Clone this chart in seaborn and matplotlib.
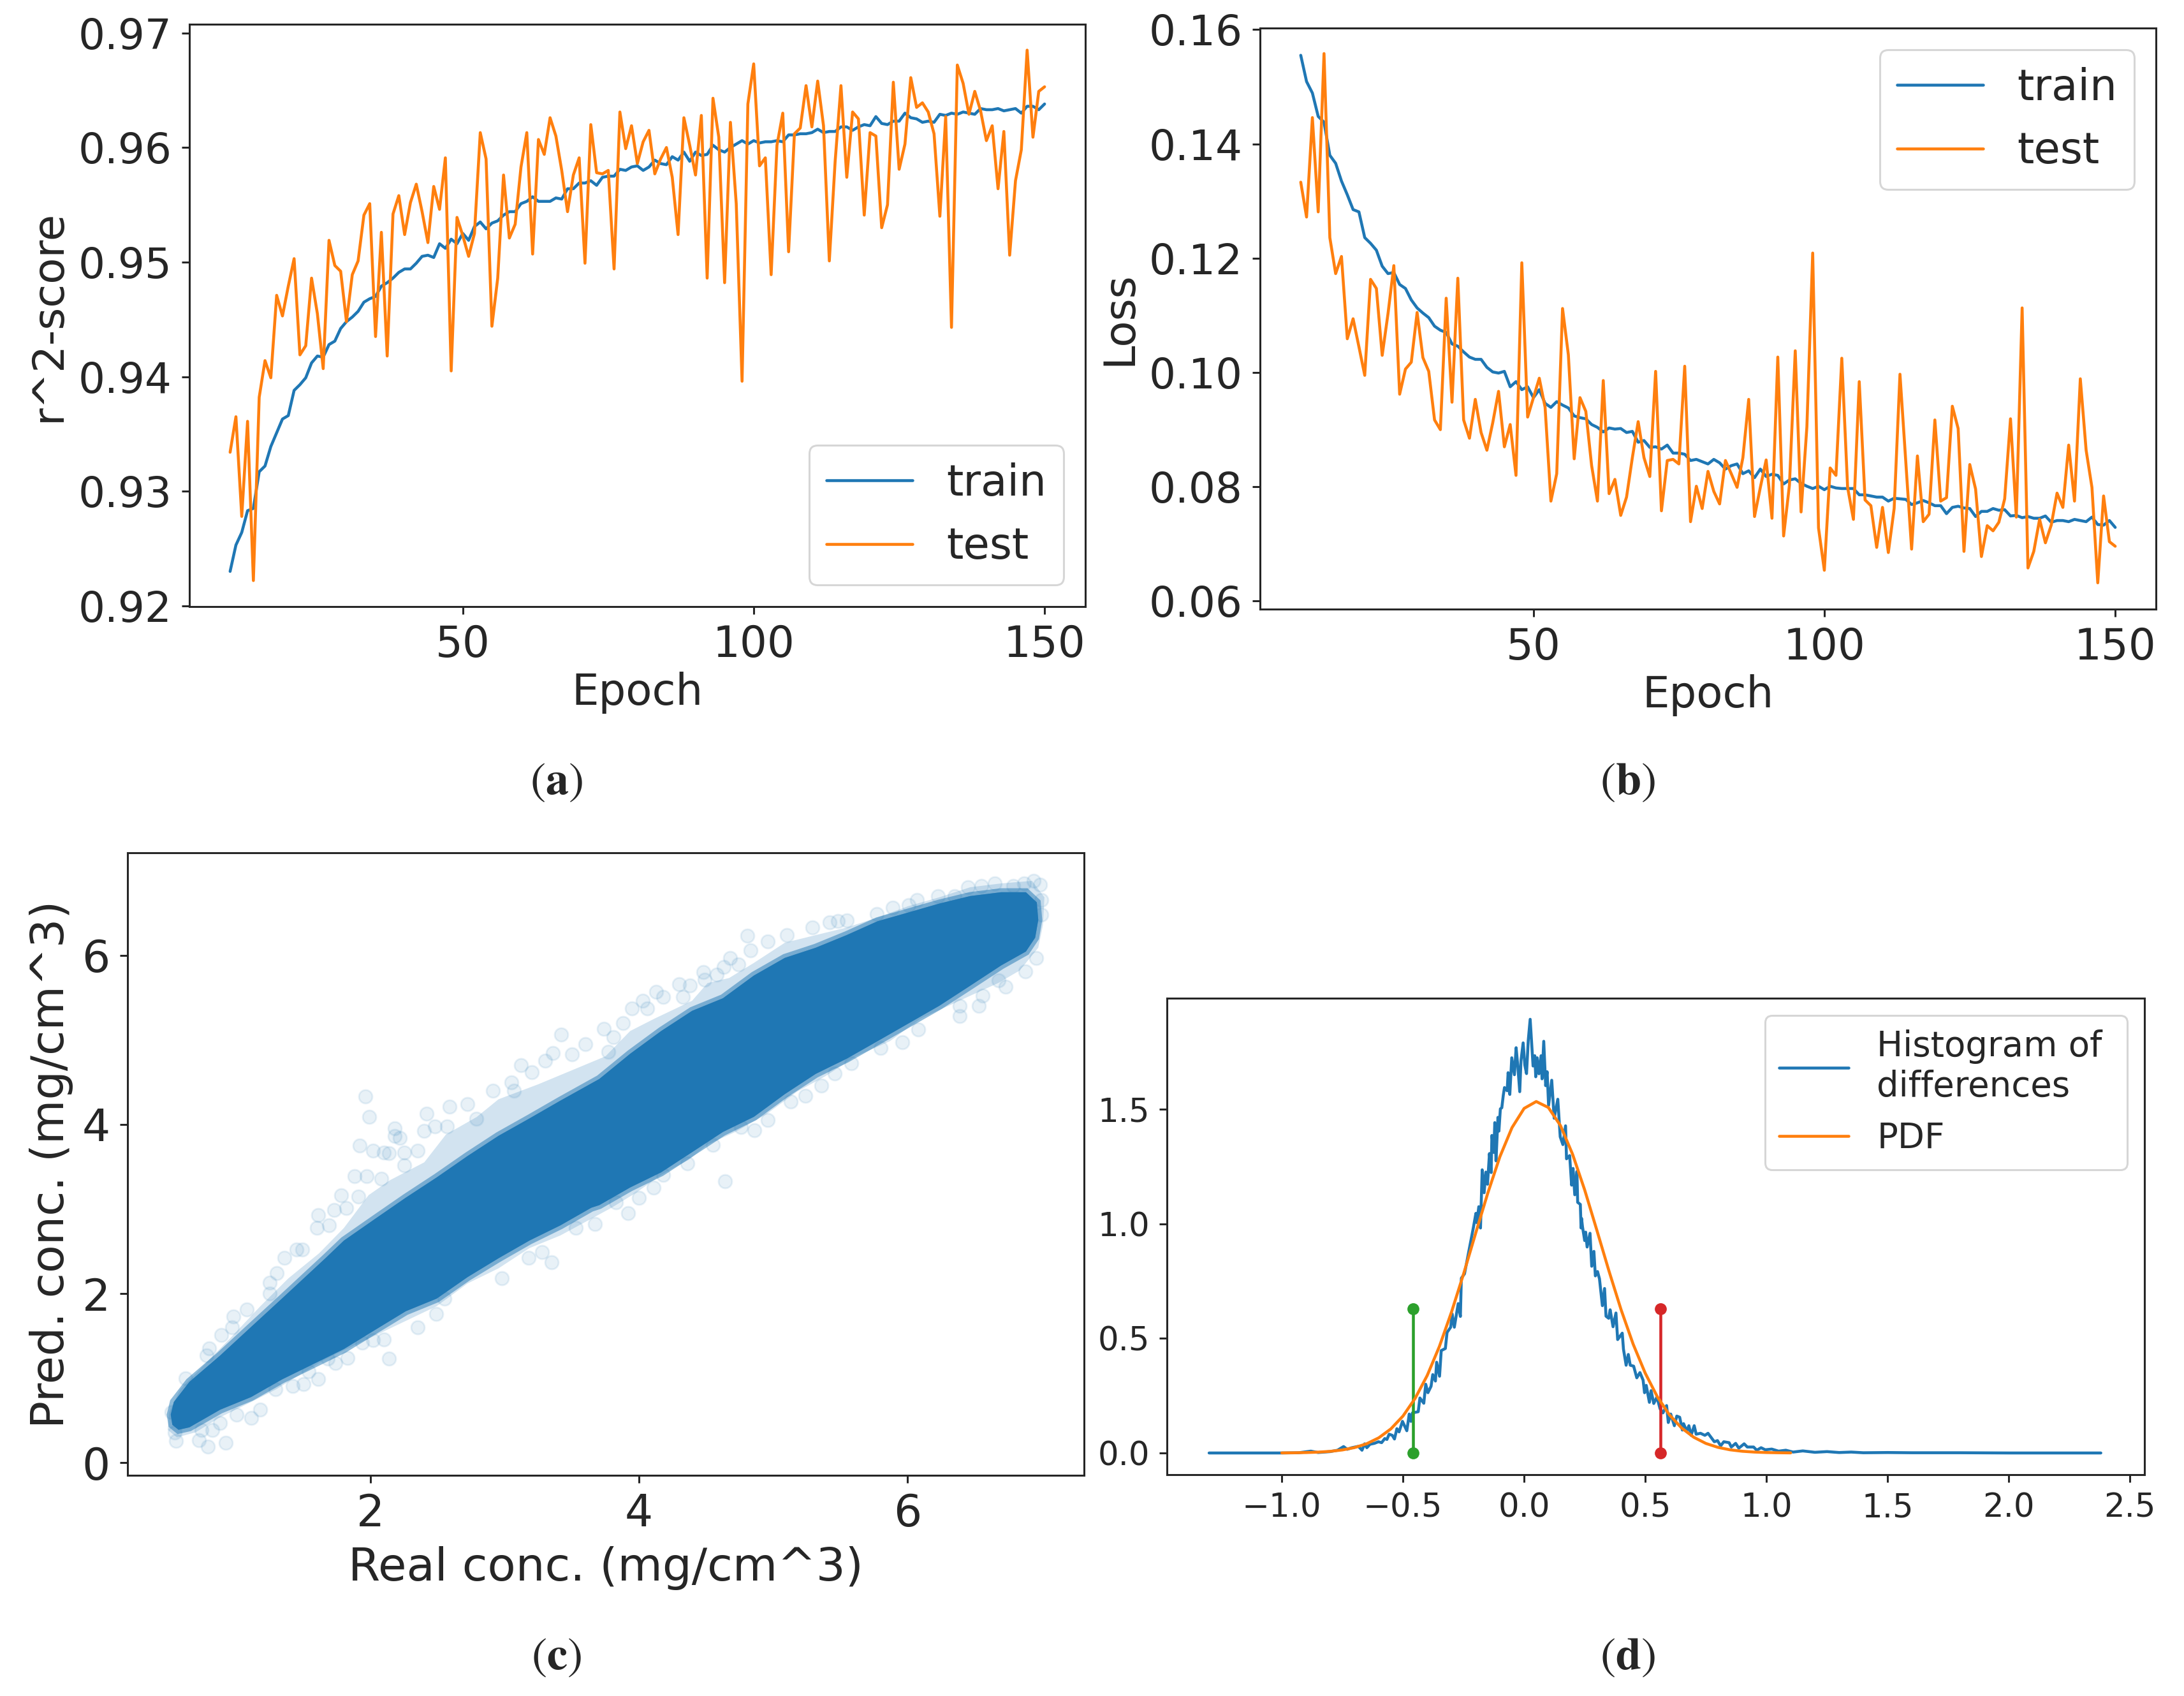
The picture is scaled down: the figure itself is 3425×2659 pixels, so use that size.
import numpy as np
import matplotlib
import matplotlib.pyplot as plt
import seaborn as sns
matplotlib.use('Agg')

epochs = list(range(10, 151))

r2_train = [.9230,.9253,.9264,.9283,.9285,.9317,.9322,.9339,.9351,.9363,.9366,.9388,.9393,.9399,.9412,.9418,.9417,.9428,.9431,.9442,
	.9448,.9452,.9457,.9465,.9468,.9470,.9479,.9482,.9486,.9491,.9494,.9494,.9499,.9505,.9506,.9504,.9516,.9512,.9520,.9516,
	.9525,.9519,.9531,.9535,.9529,.9534,.9536,.9541,.9544,.9544,.9551,.9553,.9557,.9553,.9553,.9553,.9556,.9555,.9564,.9564,
	.9569,.9569,.9571,.9567,.9574,.9575,.9575,.9581,.9580,.9583,.9584,.9580,.9583,.9589,.9586,.9585,.9592,.9589,.9596,.9588,
	.9596,.9593,.9594,.9602,.9598,.9596,.9600,.9603,.9606,.9603,.9606,.9604,.9605,.9605,.9606,.9605,.9611,.9611,.9612,.9612,
	.9613,.9616,.9613,.9614,.9614,.9618,.9618,.9615,.9618,.9620,.9619,.9627,.9621,.9620,.9623,.9623,.9630,.9626,.9625,.9622,
	.9623,.9622,.9629,.9628,.9630,.9629,.9631,.9630,.9629,.9634,.9633,.9633,.9634,.9632,.9633,.9634,.9630,.9636,.9636,.9633,.9638]
r2_test = [.9334,.9365,.9278,.9361,.9222,.9382,.9414,.9399,.9471,.9453,.9479,.9503,.9419,.9427,.9486,.9455,.9407,.9519,.9497,.9492,
	.9448,.9489,.9501,.9541,.9551,.9435,.9526,.9418,.9542,.9558,.9524,.9552,.9568,.9544,.9517,.9566,.9546,.9591,.9405,.9539,
	.9523,.9505,.9525,.9613,.9590,.9444,.9486,.9576,.9521,.9533,.9583,.9613,.9507,.9607,.9594,.9626,.9610,.9580,.9544,.9576,
	.9591,.9499,.9620,.9578,.9577,.9580,.9494,.9631,.9599,.9619,.9586,.9605,.9615,.9577,.9590,.9600,.9574,.9524,.9626,.9602,
	.9576,.9628,.9486,.9643,.9609,.9482,.9622,.9551,.9396,.9638,.9673,.9584,.9591,.9489,.9602,.9630,.9509,.9612,.9617,.9654,
	.9618,.9658,.9619,.9501,.9588,.9654,.9574,.9631,.9625,.9541,.9613,.9610,.9530,.9550,.9657,.9581,.9603,.9661,.9635,.9639,
	.9631,.9612,.9540,.9627,.9443,.9672,.9656,.9629,.9649,.9632,.9606,.9619,.9564,.9614,.9506,.9571,.9598,.9685,.9609,.9649,.9653]

loss_train = [.1555,.1509,.1489,.1448,.1438,.1380,.1366,.1335,.1311,.1285,.1281,.1236,.1226,.1214,.1186,.1173,.1175,.1154,.1147,.1127,
	.1113,.1104,.1096,.1081,.1074,.1070,.1050,.1046,.1036,.1027,.1023,.1023,.1009,.1001,.0999,.1002,.0975,.0984,.0970,.0975,
	.0956,.0970,.0946,.0939,.0949,.0943,.0938,.0924,.0921,.0919,.0909,.0904,.0896,.0903,.0901,.0902,.0895,.0897,.0878,.0881,
	.0869,.0870,.0866,.0873,.0859,.0859,.0857,.0846,.0848,.0844,.0840,.0848,.0842,.0831,.0837,.0840,.0823,.0828,.0816,.0831,
	.0818,.0822,.0820,.0805,.0812,.0814,.0806,.0801,.0797,.0801,.0795,.0801,.0798,.0797,.0797,.0797,.0786,.0786,.0784,.0782,
	.0782,.0775,.0780,.0779,.0778,.0769,.0772,.0776,.0772,.0767,.0767,.0753,.0764,.0766,.0763,.0762,.0748,.0757,.0757,.0762,
	.0759,.0760,.0749,.0750,.0746,.0748,.0745,.0745,.0749,.0738,.0741,.0741,.0739,.0743,.0741,.0739,.0747,.0734,.0733,.0741,.0729]
loss_test = [.1333,.1272,.1446,.1281,.1558,.1236,.1173,.1203,.1059,.1094,.1045,.0995,.1163,.1147,.1030,.1103,.1187,.0962,.1006,.1018,
	.1105,.1026,.1002,.0917,.0900,.1130,.0948,.1165,.0917,.0885,.0953,.0895,.0864,.0912,.0967,.0870,.0909,.0820,.1192,.0922,
	.0956,.0990,.0939,.0775,.0823,.1112,.1031,.0849,.0956,.0932,.0837,.0775,.0986,.0788,.0813,.0750,.0782,.0851,.0914,.0851,
	.0818,.1002,.0758,.0846,.0848,.0840,.1011,.0739,.0801,.0762,.0827,.0792,.0770,.0846,.0823,.0799,.0851,.0953,.0748,.0799,
	.0847,.0745,.1027,.0714,.0803,.1038,.0756,.0905,.1209,.0728,.0654,.0833,.0820,.1025,.0799,.0743,.0984,.0777,.0767,.0694,
	.0764,.0685,.0762,.0997,.0844,.0691,.0854,.0739,.0752,.0917,.0775,.0781,.0941,.0902,.0687,.0839,.0796,.0678,.0732,.0723,
	.0738,.0779,.0919,.0747,.1113,.0658,.0687,.0743,.0702,.0733,.0789,.0764,.0873,.0775,.0989,.0864,.0799,.0632,.0784,.0704,.0696]

# panel c: outline of the solid cloud and its pale haze, plus stray points
cloud_real = [.512,.535,.651,.881,1.111,1.342,1.480,1.664,1.802,2.032,2.263,2.493,2.723,2.954,3.184,3.414,3.705,3.935,4.166,4.396,4.626,4.857,5.087,5.317,5.547,5.778,6.008,6.238,6.469,6.699,6.883,6.964,6.975,6.952,
	6.883,6.699,6.469,6.238,6.008,5.778,5.547,5.317,5.087,4.857,4.626,4.396,4.166,3.935,3.705,3.645,3.414,3.184,2.954,2.723,2.493,2.263,2.032,1.802,1.572,1.342,1.111,.881,.651,.570,.524]
cloud_pred = [.570,.719,.957,1.270,1.607,1.944,2.147,2.418,2.627,2.881,3.134,3.373,3.626,3.865,4.070,4.280,4.537,4.835,5.104,5.342,5.491,5.760,5.968,6.088,6.237,6.401,6.505,6.610,6.699,6.744,6.744,6.624,6.416,6.207,
	6.043,5.879,5.640,5.402,5.193,4.984,4.776,4.597,4.358,4.090,3.911,3.672,3.434,3.255,3.046,3.015,2.806,2.627,2.418,2.195,1.941,1.792,1.569,1.345,1.166,.987,.778,.629,.420,.391,.450]
haze_real = [.501,.582,.766,.950,1.180,1.388,1.618,1.802,1.986,2.148,2.401,2.562,2.792,2.954,3.253,3.751,3.935,4.120,4.396,4.511,4.672,4.857,5.087,5.317,5.547,5.778,6.008,6.238,6.469,6.699,6.929,7.021,7.010,6.975,
	6.837,6.676,6.469,6.307,6.100,5.870,5.617,5.386,5.179,4.949,4.718,4.511,4.373,4.166,3.981,3.797,3.414,3.184,2.954,2.723,2.493,2.217,1.940,1.664,1.480,1.295,1.111,.881,.697,.558,.489]
haze_pred = [.599,.868,1.166,1.464,1.852,2.180,2.478,2.776,3.164,3.343,3.552,3.880,4.088,4.297,4.476,4.805,5.104,5.253,5.461,5.670,5.730,5.909,6.147,6.237,6.326,6.446,6.580,6.684,6.803,6.848,6.878,6.684,6.356,6.088,
	5.819,5.670,5.521,5.402,5.253,4.984,4.805,4.567,4.388,4.120,3.911,3.762,3.583,3.404,3.195,3.016,2.687,2.538,2.299,2.120,1.852,1.643,1.434,1.226,1.047,.868,.719,.540,.361,.301,.391]
stray_real = [1.96,1.99,2.18,2.18,2.22,1.92,2.02,2.10,2.14,2.25,1.88,1.97,1.78,1.91,1.73,1.82,1.61,1.60,1.69,1.45,1.49,1.36,1.30,1.25,1.25,1.08,.98,.97,.89,.80,.78,.62,
	2.42,2.59,2.72,2.91,3.07,2.40,2.48,2.57,2.79,2.35,2.25,2.08,
	2.14,2.10,2.02,1.94,2.35,2.49,2.55,2.98,3.35,3.28,3.18,3.67,3.53,1.83,1.74,1.68,1.61,1.54,1.50,1.42,1.29,1.18,1.11,1.00,.82,.88,.74,.72,.79,.92,.55,.54,.52,
	4.81,4.83,4.68,4.74,4.63,4.48,4.49,4.58,4.30,4.38,4.13,4.18,4.33,4.03,3.95,4.06,3.88,3.74,3.81,3.77,5.29,5.42,5.48,5.55,5.77,5.89,6.01,6.07,6.23,6.35,6.45,6.55,6.65,6.79,6.87,6.94,6.99,7.00,7.00,5.10,4.96,
	4.64,3.92,6.96,6.88,6.73,6.68,6.53,6.56,6.39,6.39,5.96,6.08,5.80,5.58,5.46,5.36,5.24,5.13,4.96,4.86,4.76,4.55,4.36,4.11,4.00,3.83,4.18,
	3.12,3.42,3.36,3.50,3.20,3.30,3.60,3.05]
stray_pred = [4.33,4.09,3.95,3.86,3.84,3.75,3.69,3.67,3.66,3.67,3.39,3.39,3.16,3.15,2.99,3.01,2.93,2.78,2.81,2.52,2.52,2.42,2.24,2.13,2.00,1.81,1.73,1.60,1.51,1.35,1.27,1.00,
	4.13,4.21,4.24,4.40,4.40,3.92,3.98,3.98,4.07,3.69,3.52,3.36,
	1.23,1.46,1.45,1.42,1.60,1.76,1.94,2.18,2.37,2.49,2.42,2.82,2.78,1.24,1.18,1.23,.99,1.08,.93,.91,.87,.63,.53,.57,.39,.47,.39,.27,.19,.24,.26,.36,.60,
	6.23,6.06,5.97,5.89,5.86,5.80,5.71,5.77,5.66,5.64,5.57,5.51,5.51,5.46,5.37,5.37,5.20,5.13,5.03,4.86,6.33,6.39,6.40,6.41,6.49,6.56,6.59,6.65,6.70,6.70,6.80,6.82,6.85,6.82,6.85,6.88,6.83,6.65,6.48,6.24,6.16,
	3.33,2.95,5.97,5.81,5.63,5.70,5.40,5.52,5.28,5.40,4.97,5.12,4.90,4.72,4.60,4.46,4.34,4.27,4.05,3.93,3.97,3.76,3.54,3.25,3.13,3.08,3.40,
	4.70,5.06,4.84,4.83,4.62,4.75,4.95,4.50]

# panel d
hist_x = [-1.30,-1.00,-.93,-.88,-.85,-.80,-.77,-.745,-.73,
	-.711,-.697,-.684,-.669,-.658,-.649,-.636,-.618,-.601,-.588,-.575,-.566,-.557,-.544,-.535,-.525,-.516,-.502,-.484,-.474,-.467,-.461,
	-.437,-.430,-.414,-.406,-.397,-.384,-.377,-.366,-.361,-.349,-.342,-.325,-.318,-.303,-.297,-.288,-.272,-.263,-.259,-.246,
	-.219,-.209,-.199,-.195,-.187,-.180,-.173,-.165,-.158,-.151,-.143,-.136,-.133,-.125,-.121,-.116,-.108,-.104,-.098,-.092,-.086,-.081,
	-.070,-.066,-.059,-.051,-.040,-.033,-.026,-.018,-.013,-.004,.003,.010,.017,.025,.031,.037,.044,.048,.054,.061,.070,.074,.081,.089,.095,
	.101,.114,.124,.139,.149,.160,.171,.175,.188,.196,.202,.209,.218,.221,.232,.235,
	.237,.241,.250,.254,.260,.272,.279,.288,.294,.303,.311,.323,.332,.338,.349,.355,.367,.379,.386,.405,.410,.421,.430,.438,.452,.465,.478,.491,.497,.504,
	.517,.524,.535,.548,.561,.573,.588,.595,.605,.620,.630,.642,.653,.658,.671,.680,.689,.702,.710,.728,.746,.759,.785,.798,.811,.824,.846,.855,.873,.886,.908,.921,.947,.960,.978,.995,1.022,
	1.05,1.08,1.11,1.15,1.20,1.25,1.30,1.35,1.40,1.50,1.60,1.80,2.00,2.38]
hist_y = [0,0,.001,.008,.002,.006,.012,.028,.016,
	.023,.026,.029,.012,.040,.023,.038,.042,.049,.045,.063,.059,.082,.077,.061,.106,.092,.138,.097,.170,.138,.175,
	.180,.240,.217,.300,.263,.291,.342,.314,.396,.335,.447,.456,.526,.549,.607,.549,.652,.596,.763,.782,
	.930,.986,1.046,1.005,1.075,.982,1.236,1.136,1.226,1.173,1.307,1.224,1.386,1.312,1.442,1.275,1.465,1.405,1.502,1.507,1.561,1.595,
	1.581,1.660,1.565,1.725,1.651,1.769,1.689,1.577,1.711,1.790,1.693,1.656,1.800,1.893,1.793,1.689,1.734,1.642,1.725,1.655,1.734,1.633,1.797,1.603,1.664,
	1.517,1.627,1.461,1.544,1.380,1.346,1.428,1.284,1.298,1.169,1.242,1.127,1.229,1.094,1.085,.982,
	1.024,.987,.927,.964,.899,.959,.815,.880,.773,.792,.760,.643,.718,.597,.588,.625,.551,.611,.495,.523,.453,.383,.430,.383,.379,.328,.351,.318,.263,.295,
	.221,.272,.216,.244,.193,.175,.207,.133,.170,.119,.161,.156,.100,.128,.096,.119,.077,.119,.082,.086,.077,.086,.049,.054,.031,.049,.045,.026,.042,.021,.040,.026,.026,.012,.023,.014,.017,
	.008,.012,.004,.009,.003,.006,.002,.004,.001,.002,.001,.001,0,0]
pdf_x = [-1.00,-.95,-.90,-.85,-.80,-.75,-.70,-.65,-.60,-.55,-.50,-.45,-.40,-.35,-.30,-.25,-.20,-.15,-.10,-.05,0,.05,.10,.15,.20,.25,.30,.35,.40,.45,.50,.55,.60,.65,.70,.75,.80,.85,.90,.95,1.00,1.05,1.10]
pdf_y = [.0004,.0009,.0019,.0037,.0071,.0132,.0235,.0401,.0661,.105,.161,.238,.338,.464,.614,.781,.959,1.134,1.293,1.420,1.504,1.534,1.508,1.429,1.304,1.148,.973,.795,.626,.475,.348,.245,.166,.109,.0687,.0417,.0245,.0138,.0075,.004,.002,.001,.0004]
lower_x = [-.457, -.457]
upper_x = [.562, .562]
marker_y = [0, .628]

sns.set_style('ticks')
plt.rcParams['font.family'] = ['DejaVu Sans']
plt.rcParams['mathtext.fontset'] = 'stix'
plt.rcParams['axes.linewidth'] = 2.2
plt.rcParams['xtick.major.size'] = 8.6
plt.rcParams['ytick.major.size'] = 8.6
plt.rcParams['xtick.major.width'] = 2.2
plt.rcParams['ytick.major.width'] = 2.2
plt.rcParams['xtick.major.pad'] = 11
plt.rcParams['ytick.major.pad'] = 11
plt.rcParams['legend.edgecolor'] = '0.8'
plt.rcParams['patch.linewidth'] = 2.2

W, H = 3425, 2659
LW = 3.3
BLUE, ORANGE = '#1f77b4', '#ff7f0e'
fig = plt.figure(figsize=(W / 100, H / 100), dpi=100)

def panel(left, top, right, bottom):
	return fig.add_axes([left / W, 1 - bottom / H, (right - left) / W, (bottom - top) / H])

def curves(ax, train, test, loc, ylabel, fs):
	sns.lineplot(x=epochs, y=train, ax=ax, color=BLUE, lw=LW, label='train', errorbar=None)
	sns.lineplot(x=epochs, y=test, ax=ax, color=ORANGE, lw=LW, label='test', errorbar=None)
	ax.set_xlim(3, 157)
	ax.set_xticks([50, 100, 150])
	ax.set_xlabel('Epoch', fontsize=fs, labelpad=6)
	ax.set_ylabel(ylabel, fontsize=fs, labelpad=10)
	ax.tick_params(axis='x', labelsize=fs)
	ax.tick_params(axis='y', labelsize=47.5)
	ax.legend(loc=loc, fontsize=fs)

ax = panel(297, 38, 1702, 951)
curves(ax, r2_train, r2_test, 'lower right', 'r^2-score', 48.5)
ax.set_ylim(.91993, .97076)
ax.set_yticks([.92, .93, .94, .95, .96, .97])

ax = panel(1976, 44, 3381, 955)
curves(ax, loss_train, loss_test, 'upper right', 'Loss', 48.5)
ax.set_ylim(.0586, .16026)
ax.set_yticks([.06, .08, .10, .12, .14, .16])

ax = panel(200, 1337, 1700, 2313)
ax.fill(haze_real, haze_pred, color=BLUE, alpha=.2, lw=0)
ax.fill(cloud_real, cloud_pred, color=BLUE, alpha=.5, lw=9)
ax.fill(cloud_real, cloud_pred, color=BLUE, lw=0)
sns.scatterplot(x=stray_real, y=stray_pred, ax=ax, color=BLUE, alpha=.1, s=230, edgecolor=BLUE, linewidth=2)
ax.set_xlim(.19, 7.316)
ax.set_ylim(-.147, 7.21)
ax.set_xticks([2, 4, 6])
ax.set_yticks([0, 2, 4, 6])
ax.set_xlabel('Real conc. (mg/cm^3)', fontsize=52, labelpad=12)
ax.set_ylabel('Pred. conc. (mg/cm^3)', fontsize=51.5, labelpad=10)
ax.tick_params(labelsize=50)

ax = panel(1830, 1565, 3363, 2312)
sns.lineplot(x=hist_x, y=hist_y, ax=ax, color=BLUE, lw=LW, label='Histogram of \ndifferences', estimator=None, sort=False)
sns.lineplot(x=lower_x, y=marker_y, ax=ax, color='#2ca02c', lw=LW, marker='o', markersize=13.5, markeredgewidth=0, estimator=None, sort=False)
sns.lineplot(x=upper_x, y=marker_y, ax=ax, color='#d62728', lw=LW, marker='o', markersize=13.5, markeredgewidth=0, estimator=None, sort=False)
sns.lineplot(x=pdf_x, y=pdf_y, ax=ax, color=ORANGE, lw=LW, label='PDF', estimator=None, sort=False)
ax.set_xlim(-1.474, 2.56)
ax.set_ylim(-.0947, 1.985)
ax.set_xticks([-1, -.5, 0, .5, 1, 1.5, 2, 2.5])
ax.set_yticks([0, .5, 1, 1.5])
ax.tick_params(labelsize=37)
ax.legend(loc='upper right', fontsize=39.3)

for label, x, y in [('a', 872, 1226), ('b', 2552, 1226), ('c', 872, 2598), ('d', 2552, 2598)]:
	fig.text(x / W, 1 - y / H, r'$(\mathbf{%s})$' % label, fontsize=52, ha='center', va='center')

fig.savefig('out.png', dpi=100)
